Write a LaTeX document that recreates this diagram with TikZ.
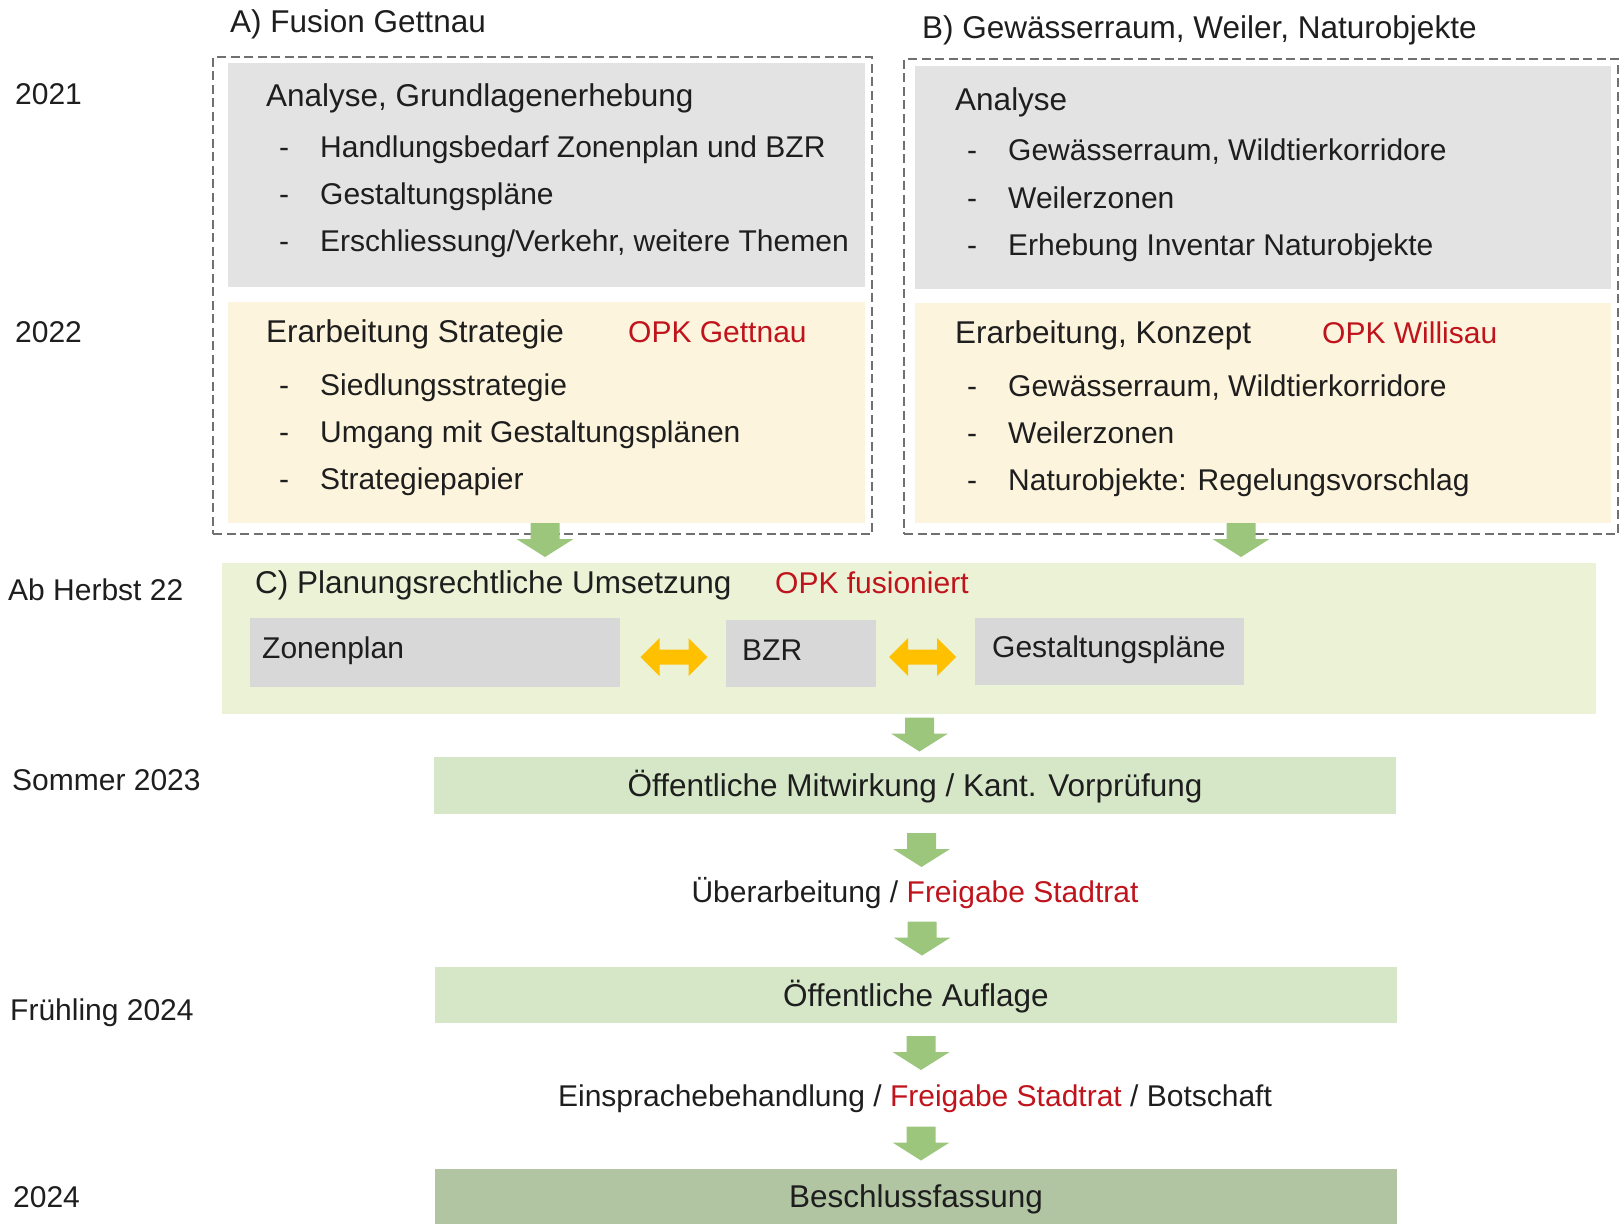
\documentclass[tikz,border=0pt]{standalone}
\usepackage{fontspec}
\setmainfont{Liberation Sans}
\usetikzlibrary{calc}
\definecolor{ink}{HTML}{1E1E1E}
\definecolor{dashgray}{HTML}{707070}
\definecolor{boxgray}{HTML}{E3E3E3}
\definecolor{subgray}{HTML}{D8D8D8}
\definecolor{cream}{HTML}{FDF4DD}
\definecolor{paleg}{HTML}{EBF2D6}
\definecolor{stepg}{HTML}{D6E7C8}
\definecolor{finalg}{HTML}{B2C5A3}
\definecolor{arrgreen}{HTML}{9BC67C}
\definecolor{arrorange}{HTML}{FFC000}
\definecolor{opkred}{HTML}{C0141C}
\newcommand{\itm}[1]{\makebox[41pt][l]{-}#1}

\begin{document}
\begin{tikzpicture}[x=1pt,y=-1pt,font=\fontsize{30}{36}\selectfont,
  lbl/.style={anchor=base west,inner sep=0pt,text=ink},
  ctr/.style={anchor=base,inner sep=0pt,text=ink},
  big/.style={font=\fontsize{31.5}{38}\selectfont},
  panel/.style={anchor=north west,inner sep=0pt,outer sep=0pt},
  dashframe/.style={panel,draw=dashgray,line width=2.3pt,dash pattern=on 9pt off 4.5pt},
  stepbox/.style={panel,big,minimum width=962pt,text=ink,text height=22.5pt,text depth=0pt},
  downarr/.pic={\fill[arrgreen] (-14.5,-17) -- (14.5,-17) -- (14.5,-1) -- (28.5,-1)
    -- (0,17) -- (-28.5,-1) -- (-14.5,-1) -- cycle;},
  bothway/.pic={\fill[arrorange] (-33.5,0) -- (-14.5,-19) -- (-14.5,-7.5) -- (14.5,-7.5)
    -- (14.5,-19) -- (33.5,0) -- (14.5,19) -- (14.5,7.5) -- (-14.5,7.5) -- (-14.5,19) -- cycle;}]
\useasboundingbox (0,0) rectangle (1621,1224);
% ---------- time column ----------
\node[lbl] (y21) at (15,104) {2021};
\node[lbl] (y22) at (15,342) {2022};
\node[lbl] (yherbst) at (8,600) {Ab Herbst 22};
\node[lbl] (ysommer) at (12,790) {Sommer 2023};
\node[lbl] (yfrueh) at (10,1020) {Frühling 2024};
\node[lbl] (y24) at (13,1207) {2024};
% ---------- A) Fusion Gettnau ----------
\node[lbl,big] (headA) at (230,32) {A) Fusion Gettnau};
\node[dashframe,minimum width=659pt,minimum height=477pt] (frameA) at (213,57) {};
\node[panel,fill=boxgray,minimum width=637pt,minimum height=224pt] (anaA) at (228,63) {};
\node[lbl,big] (anaAh) at (266,106) {Analyse, Grundlagenerhebung};
\node[lbl] (anaA1) at (279,157) {\itm{Handlungsbedarf Zonenplan und BZR}};
\node[lbl] (anaA2) at (279,204) {\itm{Gestaltungspläne}};
\node[lbl] (anaA3) at (279,251) {\itm{Erschliessung/Verkehr, weitere Themen}};
\node[panel,fill=cream,minimum width=637pt,minimum height=221pt] (strA) at (228,302) {};
\node[lbl,big] (strAh) at (266,342) {Erarbeitung Strategie};
\node[lbl,text=opkred] (opkA) at (628,342) {OPK Gettnau};
\node[lbl] (strA1) at (279,395) {\itm{Siedlungsstrategie}};
\node[lbl] (strA2) at (279,442) {\itm{Umgang mit Gestaltungsplänen}};
\node[lbl] (strA3) at (279,489) {\itm{Strategiepapier}};
% ---------- B) Gewaesserraum, Weiler, Naturobjekte ----------
\node[lbl,big] (headB) at (922,38) {B) Gewässerraum, Weiler, Naturobjekte};
\node[dashframe,minimum width=714pt,minimum height=475pt] (frameB) at (904,59) {};
\node[panel,fill=boxgray,minimum width=696pt,minimum height=223pt] (anaB) at (915,66) {};
\node[lbl,big] (anaBh) at (955,110) {Analyse};
\node[lbl] (anaB1) at (967,160) {\itm{Gewässerraum, Wildtierkorridore}};
\node[lbl] (anaB2) at (967,208) {\itm{Weilerzonen}};
\node[lbl] (anaB3) at (967,255) {\itm{Erhebung Inventar Naturobjekte}};
\node[panel,fill=cream,minimum width=696pt,minimum height=220pt] (konB) at (915,303) {};
\node[lbl,big] (konBh) at (955,343) {Erarbeitung, Konzept};
\node[lbl,text=opkred] (opkB) at (1322,343) {OPK Willisau};
\node[lbl] (konB1) at (967,396) {\itm{Gewässerraum, Wildtierkorridore}};
\node[lbl] (konB2) at (967,443) {\itm{Weilerzonen}};
\node[lbl] (konB3) at (967,490) {\itm{Naturobjekte: Regelungsvorschlag}};
% ---------- C) Umsetzung ----------
\node[panel,fill=paleg,minimum width=1374pt,minimum height=151pt] (umsC) at (222,563) {};
\node[lbl,big] (umsCh) at (255,593) {C) Planungsrechtliche Umsetzung};
\node[lbl,text=opkred] (opkC) at (775,593) {OPK fusioniert};
\node[panel,fill=subgray,minimum width=370pt,minimum height=69pt] (zp) at (250,618) {};
\node[lbl] (zpt) at (262,658) {Zonenplan};
\node[panel,fill=subgray,minimum width=150pt,minimum height=67pt] (bzr) at (726,620) {};
\node[lbl] (bzrt) at (742,660) {BZR};
\node[panel,fill=subgray,minimum width=269pt,minimum height=67pt] (gp) at (975,618) {};
\node[lbl] (gpt) at (992,657) {Gestaltungspläne};
\pic at ($(zp.east)!0.5!(bzr.west)+(1,4)$) {bothway};
\pic at ($(bzr.east)!0.5!(gp.west)+(-3,4.5)$) {bothway};
% ---------- Verfahren ----------
\node[stepbox,fill=stepg,minimum height=57pt] (mitw) at (434,757) {Öffentliche Mitwirkung / Kant. Vorprüfung};
\node[ctr] (ueber) at (915,902) {Überarbeitung / \textcolor{opkred}{Freigabe Stadtrat}};
\node[stepbox,fill=stepg,minimum height=56pt] (aufl) at (435,967) {Öffentliche Auflage};
\node[ctr] (eins) at (915,1106) {Einsprachebehandlung / \textcolor{opkred}{Freigabe Stadtrat} / Botschaft};
\node[stepbox,fill=finalg,minimum height=55pt] (besch) at (435,1169) {Beschlussfassung};
% ---------- green arrows ----------
\pic at ($(frameA.south)+(2.5,6)$) {downarr};
\pic at ($(frameB.south)+(-20,6)$) {downarr};
\pic at ($(mitw.north)+(4.5,-22.5)$) {downarr};
\pic at ($(mitw.south)+(6.5,36)$) {downarr};
\pic at ($(aufl.north)+(6,-28.5)$) {downarr};
\pic at ($(aufl.south)+(5,30)$) {downarr};
\pic at ($(besch.north)+(5,-25.5)$) {downarr};
\end{tikzpicture}
\end{document}
